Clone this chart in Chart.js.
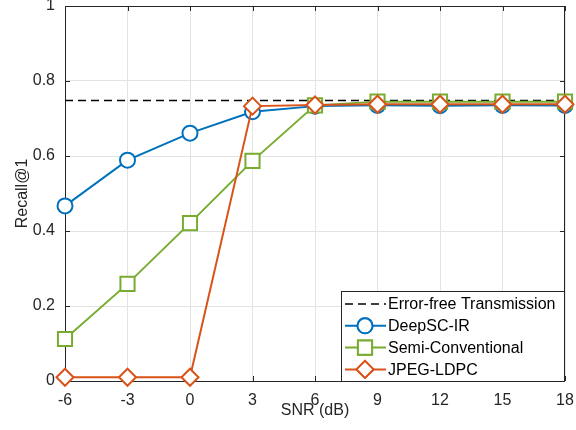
<!DOCTYPE html>
<html>
<head>
<meta charset="utf-8">
<script src="https://cdn.jsdelivr.net/npm/chart.js@4.4.1/dist/chart.umd.min.js"></script>
<style>
  html, body { margin: 0; padding: 0; background: #fff; }
  #wrap { width: 576px; height: 430px; }
</style>
</head>
<body>
<div id="wrap"><canvas id="recallChart" width="576" height="430"></canvas></div>
<script>
const snr = [-6, -3, 0, 3, 6, 9, 12, 15, 18];
const errorFree = [0.748, 0.748];
const errorFreeX = [-6, 18];
const deepSC = [0.467, 0.589, 0.661, 0.718, 0.733, 0.735, 0.734, 0.735, 0.735];
const semiConv = [0.112, 0.259, 0.421, 0.587, 0.735, 0.745, 0.745, 0.745, 0.745];
const jpegLdpc = [0.01, 0.01, 0.01, 0.733, 0.736, 0.738, 0.738, 0.738, 0.738];
const yTicks = [0, 0.2, 0.4, 0.6, 0.8, 1];

const axisColor = '#262626';
const gridColor = '#e3e3e3';
const fontFamily = '"Liberation Sans", Arial, Helvetica, sans-serif';

const ctx = document.getElementById('recallChart').getContext('2d');

const pts = (xs, ys) => xs.map((x, i) => ({ x: x, y: ys[i] }));

// box round the plot with inward ticks, like matlab's "box on"
const boxPlugin = {
  id: 'box',
  beforeDatasetsDraw(chart) {
    const { ctx, chartArea: a, scales } = chart;
    ctx.save();
    ctx.strokeStyle = axisColor;
    ctx.lineWidth = 1;
    ctx.strokeRect(a.left + 0.5, a.top + 0.5, a.right - a.left - 1, a.bottom - a.top);
    ctx.beginPath();
    snr.forEach(v => {
      const px = Math.round(scales.x.getPixelForValue(v)) + 0.5;
      ctx.moveTo(px, a.bottom); ctx.lineTo(px, a.bottom - 5);
      ctx.moveTo(px, a.top); ctx.lineTo(px, a.top + 5);
    });
    yTicks.forEach(v => {
      const py = Math.round(scales.y.getPixelForValue(v)) + 0.5;
      ctx.moveTo(a.left, py); ctx.lineTo(a.left + 5, py);
      ctx.moveTo(a.right, py); ctx.lineTo(a.right - 5, py);
    });
    ctx.stroke();
    ctx.restore();
  },
  afterDraw(chart) {
    // legend box, bottom right inside the axes
    const { ctx, chartArea: a } = chart;
    const w = 223, h = 90, rowH = 21.8;
    const x0 = a.right - w - 1, y0 = a.bottom - h;
    ctx.save();
    ctx.fillStyle = '#fff';
    ctx.fillRect(x0, y0, w, h);
    ctx.strokeStyle = axisColor;
    ctx.lineWidth = 1;
    ctx.strokeRect(x0 + 0.5, y0 + 0.5, w, h);
    ctx.font = '16px ' + fontFamily;
    ctx.textBaseline = 'middle';
    chart.data.datasets.forEach((ds, row) => {
      const cy = y0 + 13 + row * rowH;
      ctx.beginPath();
      ctx.strokeStyle = ds.borderColor;
      ctx.lineWidth = ds.borderWidth;
      ctx.setLineDash(ds.borderDash || []);
      ctx.moveTo(x0 + 4, cy); ctx.lineTo(x0 + 45, cy);
      ctx.stroke();
      ctx.setLineDash([]);
      if (ds.pointRadius > 0) {
        ctx.fillStyle = '#fff';
        Chart.helpers.drawPoint(ctx, {
          pointStyle: ds.pointStyle, radius: ds.pointRadius, borderWidth: ds.pointBorderWidth, rotation: 0
        }, x0 + 24, cy);
        ctx.fill();
        ctx.stroke();
      }
      ctx.fillStyle = '#000';
      ctx.fillText(ds.label, x0 + 47, cy + 1);
    });
    ctx.restore();
  }
};

const datasets = [
  {
    label: 'Error-free Transmission',
    data: pts(errorFreeX, errorFree),
    borderColor: '#000', borderWidth: 1.6, borderDash: [8, 5],
    pointRadius: 0, order: 4
  },
  {
    label: 'DeepSC-IR',
    data: pts(snr, deepSC),
    borderColor: '#0072BD', borderWidth: 2,
    pointStyle: 'circle', pointRadius: 7.5, pointBorderWidth: 2,
    pointBackgroundColor: '#fff', pointBorderColor: '#0072BD', order: 3
  },
  {
    label: 'Semi-Conventional',
    data: pts(snr, semiConv),
    borderColor: '#77AC30', borderWidth: 2,
    pointStyle: 'rect', pointRadius: 10, pointBorderWidth: 2,
    pointBackgroundColor: '#fff', pointBorderColor: '#77AC30', order: 2
  },
  {
    label: 'JPEG-LDPC',
    data: pts(snr, jpegLdpc),
    borderColor: '#D95319', borderWidth: 2,
    pointStyle: 'rectRot', pointRadius: 8.5, pointBorderWidth: 2,
    pointBackgroundColor: '#fff', pointBorderColor: '#D95319', order: 1
  }
];

// invisible outer ticks just push the labels off the axes
const hiddenTicks = { color: gridColor, drawTicks: true, tickLength: 10, tickColor: 'rgba(0,0,0,0)' };

const recallChart = new Chart(ctx, {
  type: 'line',
  data: { datasets: datasets },
  plugins: [boxPlugin],
  options: {
    responsive: false,
    animation: false,
    clip: false,
    layout: { autoPadding: false, padding: { top: 6, right: 11, left: 0, bottom: 0 } },
    elements: { line: { tension: 0 } },
    plugins: { legend: { display: false }, tooltip: { enabled: false } },
    scales: {
      x: {
        type: 'linear', min: -6, max: 18,
        afterBuildTicks: axis => { axis.ticks = snr.map(v => ({ value: v })); },
        afterFit: axis => { axis.height = 49; },
        grid: hiddenTicks,
        border: { display: false },
        ticks: { color: axisColor, padding: 0, maxRotation: 0, font: { family: fontFamily, size: 16 } },
        title: {
          display: true, text: 'SNR (dB)', color: axisColor,
          font: { family: fontFamily, size: 16 }, padding: { top: 0, bottom: 10 }
        }
      },
      y: {
        min: 0, max: 1,
        afterBuildTicks: axis => { axis.ticks = yTicks.map(v => ({ value: v })); },
        afterFit: axis => { axis.width = 65; },
        grid: hiddenTicks,
        border: { display: false },
        ticks: {
          color: axisColor, padding: 0, font: { family: fontFamily, size: 16, lineHeight: 0.6 },
          callback: v => String(+v.toFixed(1))
        },
        title: {
          display: true, text: 'Recall@1', color: axisColor,
          font: { family: fontFamily, size: 16 }, padding: { top: 13, bottom: 0 }
        }
      }
    }
  }
});
</script>
</body>
</html>
